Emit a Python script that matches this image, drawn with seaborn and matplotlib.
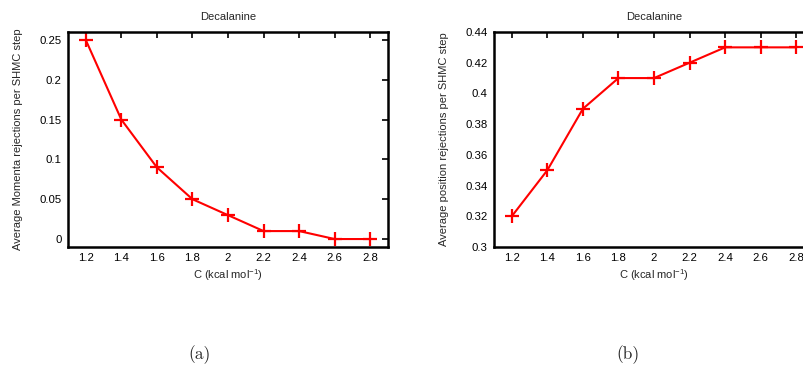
import matplotlib
matplotlib.use("Agg")
import matplotlib.pyplot as plt
import seaborn as sns
import pandas as pd

# C values (kcal/mol) shared by both panels
c_values = [1.2, 1.4, 1.6, 1.8, 2.0, 2.2, 2.4, 2.6, 2.8]
momenta_rejections = [0.25, 0.15, 0.09, 0.05, 0.03, 0.01, 0.01, 0.0, 0.0]
position_rejections = [0.32, 0.35, 0.39, 0.41, 0.41, 0.42, 0.43, 0.43, 0.43]

x_ticks = [1.2, 1.4, 1.6, 1.8, 2.0, 2.2, 2.4, 2.6, 2.8]
x_tick_labels = ["1.2", "1.4", "1.6", "1.8", "2", "2.2", "2.4", "2.6", "2.8"]
y_ticks_a = [0, 0.05, 0.1, 0.15, 0.2, 0.25]
y_tick_labels_a = ["0", "0.05", "0.1", "0.15", "0.2", "0.25"]
y_ticks_b = [0.3, 0.32, 0.34, 0.36, 0.38, 0.4, 0.42, 0.44]
y_tick_labels_b = ["0.3", "0.32", "0.34", "0.36", "0.38", "0.4", "0.42", "0.44"]

title = "Decalanine"
x_label = "C (kcal mol$^{-1}$)"
y_label_a = "Average Momenta rejections per SHMC step"
y_label_b = "Average position rejections per SHMC step"

sns.set_style("white")
plt.rcParams["font.family"] = ["Liberation Sans", "DejaVu Sans"]
plt.rcParams["mathtext.fontset"] = "custom"
plt.rcParams["mathtext.rm"] = "Liberation Sans"

fig = plt.figure(figsize=(8.04, 3.71), dpi=100)
ax_a = fig.add_axes([68 / 804, 124 / 371, 320 / 804, 215 / 371])
ax_b = fig.add_axes([494 / 804, 124 / 371, 320 / 804, 215 / 371])

df = pd.DataFrame({"C": c_values, "momenta": momenta_rejections, "position": position_rejections})


def style_panel(ax, yticks, ylabels, ylim, ylabel):
    ax.set_xlim(1.1, 2.9)
    ax.set_ylim(*ylim)
    ax.set_xticks(x_ticks)
    ax.set_xticklabels(x_tick_labels)
    ax.set_yticks(yticks)
    ax.set_yticklabels(ylabels)
    ax.tick_params(direction="in", length=4, width=1.2, top=True, right=True,
                   labelsize=8.2, colors="black", pad=4.5)
    for s in ax.spines.values():
        s.set_visible(True)
        s.set_linewidth(1.8)
        s.set_color("black")
    ax.set_title(title, fontsize=8, pad=9)
    ax.set_xlabel(x_label, fontsize=8, labelpad=3)
    ax.set_ylabel(ylabel, fontsize=8, labelpad=12)
    ax.grid(False)


sns.lineplot(data=df, x="C", y="momenta", ax=ax_a, color="#ff0000", lw=1.5,
             marker="+", markersize=10, markeredgewidth=1.6, markeredgecolor="#ff0000")
sns.lineplot(data=df, x="C", y="position", ax=ax_b, color="#ff0000", lw=1.5,
             marker="+", markersize=10, markeredgewidth=1.6, markeredgecolor="#ff0000")

style_panel(ax_a, y_ticks_a, y_tick_labels_a, (-0.01, 0.26), y_label_a)
style_panel(ax_b, y_ticks_b, y_tick_labels_b, (0.3, 0.44), y_label_b)

fig.text(200 / 804, 1 - 355 / 371, "(a)", fontsize=12.5, family="cmr10", ha="center", va="center")
fig.text(628 / 804, 1 - 355 / 371, "(b)", fontsize=12.5, family="cmr10", ha="center", va="center")

fig.savefig("out.png", dpi=100, facecolor="white")
